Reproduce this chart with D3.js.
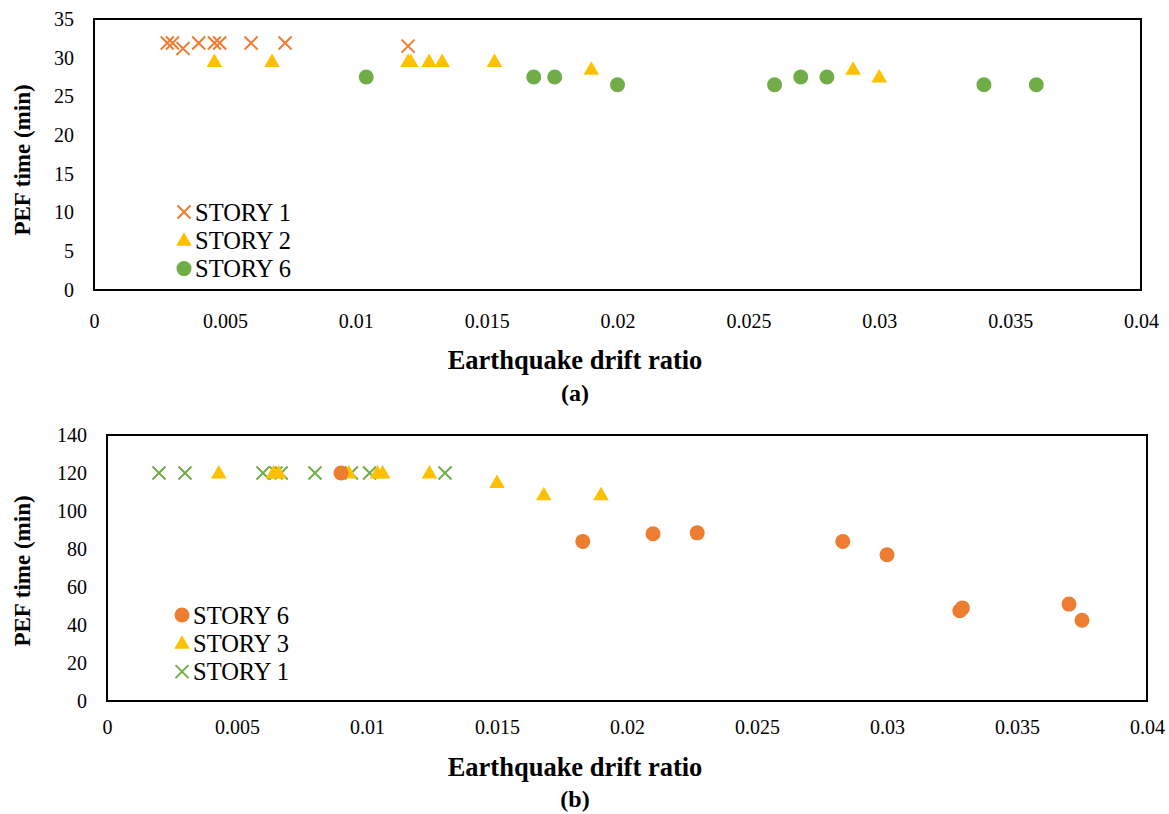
<!DOCTYPE html>
<html>
<head>
<meta charset="utf-8">
<script src="https://cdn.jsdelivr.net/npm/d3@7/dist/d3.min.js"></script>
<style>
  html, body { margin: 0; padding: 0; background: #fff; }
  svg { display: block; }
</style>
</head>
<body>
<svg id="fig" width="1169" height="814"></svg>
<script>
// ---- Panel (a) data ----
const a_story1_x = [0.0028, 0.003, 0.0034, 0.004, 0.0046, 0.0048, 0.006, 0.0073, 0.012];
const a_story1_y = [31.9, 31.9, 31.2, 31.9, 31.9, 31.9, 31.9, 31.9, 31.5];
const a_story2_x = [0.0046, 0.0068, 0.012, 0.0121, 0.0128, 0.0133, 0.0153, 0.019, 0.029, 0.03];
const a_story2_y = [29.5, 29.5, 29.5, 29.5, 29.5, 29.5, 29.5, 28.5, 28.5, 27.5];
const a_story6_x = [0.0104, 0.0168, 0.0176, 0.02, 0.026, 0.027, 0.028, 0.034, 0.036];
const a_story6_y = [27.5, 27.5, 27.5, 26.5, 26.5, 27.5, 27.5, 26.5, 26.5];
const a_xTicks = [0, 0.005, 0.01, 0.015, 0.02, 0.025, 0.03, 0.035, 0.04];
const a_yTicks = [0, 5, 10, 15, 20, 25, 30, 35];

// ---- Panel (b) data ----
const b_story6_x = [0.009, 0.0183, 0.021, 0.0227, 0.0283, 0.03, 0.0328, 0.0329, 0.037, 0.0375];
const b_story6_y = [120, 84, 88, 88.5, 84, 77, 47.5, 49, 51, 42.5];
const b_story3_x = [0.0043, 0.0064, 0.0066, 0.0093, 0.0104, 0.0106, 0.0124, 0.015, 0.0168, 0.019];
const b_story3_y = [120, 120, 120, 120, 120, 120, 120, 115, 108.5, 108.5];
const b_story1_x = [0.002, 0.003, 0.006, 0.0065, 0.0067, 0.008, 0.0094, 0.0101, 0.013];
const b_story1_y = [120, 120, 120, 120, 120, 120, 120, 120, 120];
const b_xTicks = [0, 0.005, 0.01, 0.015, 0.02, 0.025, 0.03, 0.035, 0.04];
const b_yTicks = [0, 20, 40, 60, 80, 100, 120, 140];

const ORANGE = "#ED7D31", GOLD = "#FFC000", GREEN = "#70AD47";
const FONT = "'Times New Roman', Tinos, 'Liberation Serif', 'DejaVu Serif', serif";

const svg = d3.select("#fig");
const zip = (xs, ys) => xs.map((x, i) => ({x, y: ys[i]}));

function marker(g, type, color, cx, cy) {
  if (type === "circle") {
    g.append("circle").attr("cx", cx).attr("cy", cy).attr("r", 7.5).attr("fill", color);
  } else if (type === "triangle") {
    g.append("path")
      .attr("d", d3.symbol().type(d3.symbolTriangle).size(105)())
      .attr("transform", `translate(${cx},${cy + 1})`)
      .attr("fill", color);
  } else {
    const s = 6.5;
    g.append("path")
      .attr("d", `M${cx - s},${cy - s}L${cx + s},${cy + s}M${cx - s},${cy + s}L${cx + s},${cy - s}`)
      .attr("stroke", color).attr("stroke-width", 2).attr("fill", "none");
  }
}

function panel(cfg) {
  const x = d3.scaleLinear().domain([0, 0.04]).range([cfg.left, cfg.right]);
  const y = d3.scaleLinear().domain([0, cfg.yMax]).range([cfg.bottom, cfg.top]);
  const g = svg.append("g").style("font-family", FONT);

  // x axis labels
  const xa = g.append("g").attr("transform", `translate(0,${cfg.bottom})`)
    .call(d3.axisBottom(x).tickValues(cfg.xTicks).tickSize(0).tickPadding(cfg.xPad)
      .tickFormat(d => d === 0 ? "0" : String(+d.toFixed(3))));
  xa.select(".domain").remove();
  xa.selectAll("text").attr("font-size", 20).attr("fill", "#000").style("font-family", FONT);

  // y axis labels
  const ya = g.append("g").attr("transform", `translate(${cfg.left},0)`)
    .call(d3.axisLeft(y).tickValues(cfg.yTicks).tickSize(0).tickPadding(cfg.yPad));
  ya.select(".domain").remove();
  ya.selectAll("text").attr("font-size", 20).attr("fill", "#000").style("font-family", FONT);

  // plot frame
  g.append("rect")
    .attr("x", cfg.left).attr("y", cfg.top)
    .attr("width", cfg.right - cfg.left).attr("height", cfg.bottom - cfg.top)
    .attr("fill", "none").attr("stroke", "#000").attr("stroke-width", 2);

  // series
  cfg.series.forEach(s => {
    const sg = g.append("g");
    zip(s.xs, s.ys).forEach(d => marker(sg, s.type, s.color, x(d.x), y(d.y)));
  });

  // legend
  cfg.series.slice().sort((a, b) => a.legendOrder - b.legendOrder).forEach((s, i) => {
    const ly = cfg.legendY + i * 28.3;
    marker(g, s.type, s.color, cfg.legendX, ly);
    g.append("text").attr("x", cfg.legendX + 11).attr("y", ly).attr("dy", "0.35em")
      .style("font-family", FONT).attr("font-size", 24.5).text(s.name);
  });

  // axis titles
  g.append("text").attr("x", cfg.titleX).attr("y", cfg.xTitleY)
    .attr("text-anchor", "middle").style("font-family", FONT)
    .attr("font-size", 26.5).attr("font-weight", "bold")
    .text("Earthquake drift ratio");
  g.append("text")
    .attr("transform", `translate(22,${cfg.yTitleC}) rotate(-90)`)
    .attr("text-anchor", "middle").attr("dy", "0.35em").style("font-family", FONT)
    .attr("font-size", 23).attr("font-weight", "bold")
    .text("PEF time (min)");
  g.append("text").attr("x", cfg.titleX).attr("y", cfg.labelY)
    .attr("text-anchor", "middle").style("font-family", FONT)
    .attr("font-size", 24).attr("font-weight", "bold")
    .text(cfg.label);
}

panel({
  left: 94, right: 1141, top: 19, bottom: 290, yMax: 35, yPad: 20, xPad: 24,
  xTicks: a_xTicks, yTicks: a_yTicks,
  titleX: 575, xTitleY: 369, labelY: 401, label: "(a)", yTitleC: 160,
  legendX: 184, legendY: 212,
  series: [
    {name: "STORY 2", type: "triangle", color: GOLD, xs: a_story2_x, ys: a_story2_y, legendOrder: 1},
    {name: "STORY 6", type: "circle", color: GREEN, xs: a_story6_x, ys: a_story6_y, legendOrder: 2},
    {name: "STORY 1", type: "cross", color: ORANGE, xs: a_story1_x, ys: a_story1_y, legendOrder: 0}
  ]
});

panel({
  left: 107, right: 1147, top: 435, bottom: 701, yMax: 140, yPad: 20, xPad: 19,
  xTicks: b_xTicks, yTicks: b_yTicks,
  titleX: 575, xTitleY: 776, labelY: 807, label: "(b)", yTitleC: 571,
  legendX: 182, legendY: 615,
  series: [
    {name: "STORY 1", type: "cross", color: GREEN, xs: b_story1_x, ys: b_story1_y, legendOrder: 2},
    {name: "STORY 3", type: "triangle", color: GOLD, xs: b_story3_x, ys: b_story3_y, legendOrder: 1},
    {name: "STORY 6", type: "circle", color: ORANGE, xs: b_story6_x, ys: b_story6_y, legendOrder: 0}
  ]
});
</script>
</body>
</html>
